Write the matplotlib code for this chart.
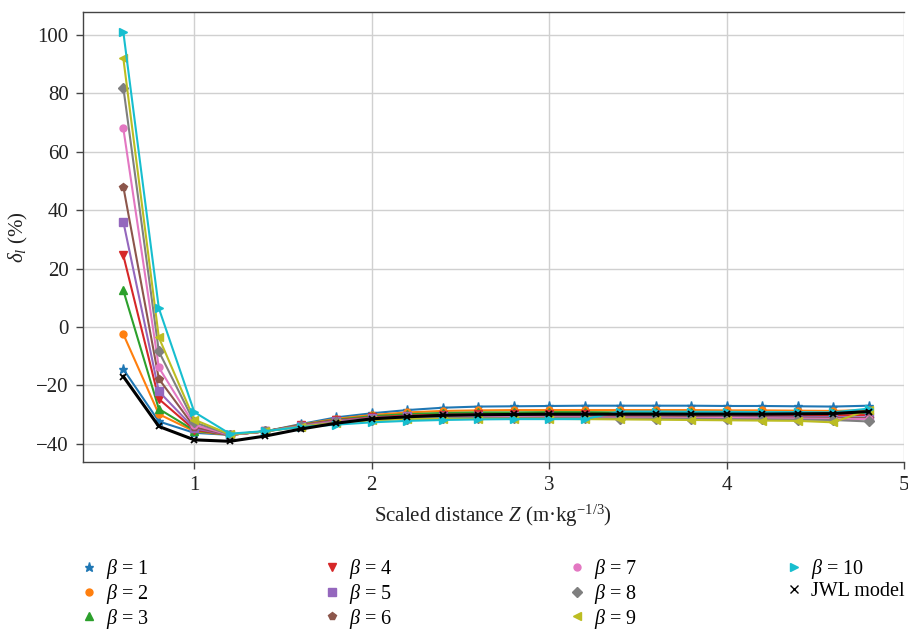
import matplotlib
matplotlib.use("Agg")
import matplotlib.pyplot as plt
from matplotlib.lines import Line2D

plt.rcParams['font.family'] = ['Liberation Serif', 'DejaVu Serif']
plt.rcParams['mathtext.fontset'] = 'custom'
plt.rcParams['mathtext.rm'] = 'Liberation Serif'
plt.rcParams['mathtext.it'] = 'Liberation Serif:italic'
plt.rcParams['mathtext.bf'] = 'Liberation Serif:bold'

# Scaled distance Z (m·kg^-1/3)
Z = [0.6, 0.8, 1.0, 1.2, 1.4, 1.6, 1.8, 2.0, 2.2, 2.4, 2.6,
     2.8, 3.0, 3.2, 3.4, 3.6, 3.8, 4.0, 4.2, 4.4, 4.6, 4.8]

# Relative deviation delta_l (%) for each beta
beta1 = [-14.5, -32.4, -36.3, -37.0, -35.8, -33.3, -31.0, -29.6, -28.5, -27.7, -27.3,
         -27.2, -27.1, -27.0, -27.0, -27.0, -27.0, -27.1, -27.1, -27.2, -27.3, -27.0]
beta2 = [-2.5, -29.9, -35.8, -37.0, -35.8, -33.5, -31.5, -30.2, -29.3, -28.8, -28.6,
         -28.5, -28.5, -28.5, -28.5, -28.5, -28.5, -28.6, -28.6, -28.7, -28.8, -28.5]
beta3 = [12.5, -28.1, -35.5, -37.0, -35.8, -33.6, -31.8, -30.6, -29.9, -29.5, -29.3,
         -29.3, -29.2, -29.2, -29.3, -29.3, -29.3, -29.4, -29.4, -29.5, -29.5, -29.4]
beta4 = [24.5, -24.7, -35.2, -37.0, -35.8, -33.7, -32.0, -31.0, -30.4, -30.1, -30.0,
         -30.0, -30.0, -30.0, -30.0, -30.0, -30.1, -30.1, -30.2, -30.2, -30.3, -30.2]
beta5 = [36.0, -22.1, -34.8, -37.0, -35.8, -33.8, -32.2, -31.2, -30.7, -30.5, -30.4,
         -30.4, -30.4, -30.4, -30.5, -30.5, -30.6, -30.6, -30.7, -30.8, -30.9, -31.0]
beta6 = [48.0, -17.8, -34.3, -37.0, -35.8, -33.9, -32.4, -31.4, -30.9, -30.7, -30.7,
         -30.7, -30.7, -30.7, -30.8, -30.8, -30.9, -31.0, -31.0, -31.1, -31.2, -31.3]
beta7 = [68.0, -13.9, -33.6, -37.0, -35.8, -34.0, -32.5, -31.6, -31.1, -30.9, -30.9,
         -30.9, -31.0, -31.0, -31.1, -31.1, -31.2, -31.2, -31.3, -31.4, -31.5, -31.6]
beta8 = [82.0, -8.4, -32.7, -36.9, -35.8, -34.1, -32.7, -31.8, -31.4, -31.2, -31.2,
         -31.2, -31.2, -31.3, -31.4, -31.4, -31.5, -31.6, -31.7, -31.8, -31.9, -32.4]
beta9 = [92.0, -3.6, -31.8, -36.8, -35.8, -34.2, -32.9, -32.0, -31.6, -31.5, -31.5,
         -31.5, -31.5, -31.6, -31.7, -31.8, -31.9, -32.0, -32.1, -32.2, -32.7, -28.5]
beta10 = [101.0, 6.4, -29.2, -36.6, -35.7, -34.3, -33.5, -32.7, -32.2, -31.9, -31.7,
          -31.6, -31.6, -31.6, -29.0, -29.0, -29.1, -29.1, -29.2, -29.2, -29.3, -28.0]
jwl = [-17.0, -34.1, -38.7, -39.2, -37.4, -35.0, -33.0, -31.5, -30.8, -30.3, -30.1,
       -30.0, -29.9, -29.9, -29.9, -29.9, -29.9, -29.9, -29.9, -29.8, -29.7, -29.0]

series = [beta1, beta2, beta3, beta4, beta5, beta6, beta7, beta8, beta9, beta10]
labels = [r'$\beta$ = %d' % k for k in range(1, 11)]
colors = ['#1f77b4', '#ff7f0e', '#2ca02c', '#d62728', '#9467bd',
          '#8c564b', '#e377c2', '#7f7f7f', '#bcbd22', '#17becf']
markers = ['*', 'o', '^', 'v', 's', 'p', 'o', 'D', '<', '>']
msizes = [6.5, 5, 5.5, 5.5, 5.5, 5.5, 5, 5, 5.5, 5.5]

fig = plt.figure(figsize=(9.08, 6.3), dpi=100)
ax = fig.add_axes([0.0909, 0.2671, 0.9047, 0.7143])

handles = []
for ys, lab, c, m, ms in zip(series, labels, colors, markers, msizes):
    ax.plot(Z, ys, color=c, lw=1.5, marker=m, ms=ms, zorder=3)
    handles.append(Line2D([], [], ls='none', marker=m, color=c, ms=ms, label=lab))
ax.plot(Z, jwl, color='black', lw=2.2, marker='x', ms=5, mew=1.3, zorder=4)
handles.append(Line2D([], [], ls='none', marker='x', color='black', ms=5.5, mew=1.0,
                      label='JWL model'))

ax.set_xlim(0.37, 5.0)
ax.set_ylim(-46.2, 108)
ax.set_xticks([1, 2, 3, 4, 5])
ax.set_yticks([-40, -20, 0, 20, 40, 60, 80, 100])
ax.grid(True, color='#d0d0d0', lw=1.0, zorder=0)
ax.set_axisbelow(True)
for side in ['left', 'bottom', 'top']:
    ax.spines[side].set_color('#444444')
    ax.spines[side].set_linewidth(1.0)
ax.spines['right'].set_visible(False)
ax.tick_params(axis='both', direction='out', length=5, width=1.0, color='#444444',
               labelsize=15, labelcolor='#222222', pad=5)

ax.set_xlabel(r'Scaled distance $Z$ (m·kg$^{-1/3}$)', fontsize=15, color='#222222',
              labelpad=6)
ax.set_ylabel(r'$\delta_l$ (%)', fontsize=15, color='#222222', labelpad=4)

# legend laid out in four columns beneath the axes
col_x = [0.087, 0.3546, 0.6245, 0.8634]
groups = [handles[0:3], handles[3:6], handles[6:9], handles[9:11]]
for x0, grp in zip(col_x, groups):
    fig.legend(handles=grp, loc='upper left', bbox_to_anchor=(x0, 0.116),
               frameon=False, fontsize=14.5, handlelength=1.0, handletextpad=0.35,
               labelspacing=0.04, borderaxespad=0, borderpad=0)

fig.savefig('out.png', dpi=100, facecolor='white')
